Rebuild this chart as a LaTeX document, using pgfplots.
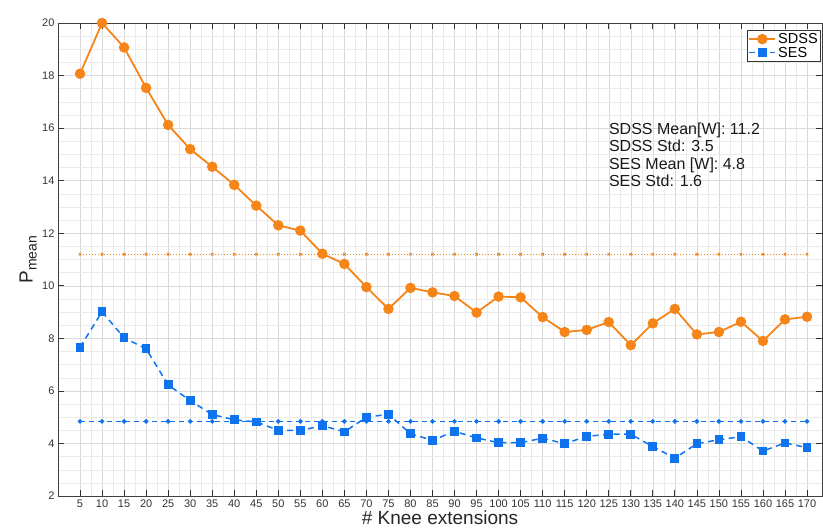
\documentclass[border=0pt]{standalone}
\usepackage{pgfplots}
\pgfplotsset{compat=1.18}
\usepackage{pgfplotstable}
\usepackage{fontspec}
\setmainfont{Liberation Sans}

\definecolor{sdss}{RGB}{245,132,25}
\definecolor{ses}{RGB}{15,115,238}

\pgfplotstableread{
x   sdss   ses   msdss  mses
5   18.07  7.66  11.2   4.84
10  20.00  9.01  11.2   4.84
15  19.07  8.02  11.2   4.84
20  17.53  7.60  11.2   4.84
25  16.12  6.23  11.2   4.84
30  15.20  5.63  11.2   4.84
35  14.53  5.10  11.2   4.84
40  13.84  4.90  11.2   4.84
45  13.05  4.82  11.2   4.84
50  12.30  4.50  11.2   4.84
55  12.10  4.49  11.2   4.84
60  11.22  4.68  11.2   4.84
65  10.83  4.44  11.2   4.84
70  9.95   5.00  11.2   4.84
75  9.12   5.11  11.2   4.84
80  9.92   4.37  11.2   4.84
85  9.75   4.12  11.2   4.84
90  9.61   4.46  11.2   4.84
95  8.98   4.21  11.2   4.84
100 9.59   4.03  11.2   4.84
105 9.56   4.03  11.2   4.84
110 8.81   4.20  11.2   4.84
115 8.24   3.99  11.2   4.84
120 8.32   4.27  11.2   4.84
125 8.62   4.35  11.2   4.84
130 7.74   4.35  11.2   4.84
135 8.57   3.88  11.2   4.84
140 9.12   3.44  11.2   4.84
145 8.15   3.99  11.2   4.84
150 8.24   4.14  11.2   4.84
155 8.63   4.26  11.2   4.84
160 7.90   3.71  11.2   4.84
165 8.72   4.02  11.2   4.84
170 8.82   3.84  11.2   4.84
}\data

\begin{document}
\begin{tikzpicture}
\begin{axis}[
    scale only axis,
    width=764pt, height=473pt,
    xmin=0, xmax=173.4,
    ymin=2, ymax=20,
    xtick={5,10,...,170},
    ytick={2,4,...,20},
    minor x tick num=1,
    minor y tick num=3,
    tick align=inside,
    major tick length=6pt,
    minor tick length=0pt,
    tick style={black!80, line width=0.7pt},
    axis line style={black!75, line width=0.8pt},
    grid=both,
    major grid style={gray!30, line width=0.5pt},
    minor grid style={gray!16, line width=0.4pt},
    /pgf/number format/assume math mode=true,
    ticklabel style={font=\fontsize{11}{12}\selectfont, text=black!80},
    xlabel={\# Knee extensions},
    xlabel style={at={([yshift=-15pt]axis description cs:0.5,0)}, anchor=north,
        inner sep=0pt, font=\fontsize{19}{20}\selectfont, text=black!85},
    ylabel={P\raisebox{-4pt}{\fontsize{14}{15}\selectfont mean}},
    ylabel style={at={([xshift=-21pt]axis description cs:0,0.5)}, anchor=south,
        inner sep=0pt, font=\fontsize{19}{20}\selectfont, text=black!85},
    legend style={at={([xshift=-1pt,yshift=-7pt]axis description cs:1,1)},
        anchor=north east, font=\fontsize{14.5}{14.5}\selectfont,
        inner sep=1pt, row sep=-2pt, draw=black!80, line width=0.6pt,
        cells={anchor=west}},
    legend image code/.code={\draw[mark repeat=2, mark phase=2, #1]
        plot coordinates {(0pt,0pt) (13pt,0pt) (26pt,0pt)};},
]
\addplot[sdss, line width=1.8pt, mark=*, mark size=4.3pt,
    mark options={solid, fill=sdss, draw=sdss}]
    table[x=x, y=sdss] {\data};
\addlegendentry{SDSS}
\addplot[ses, line width=1.5pt, dash pattern=on 6pt off 4.5pt, mark=square*, mark size=3.6pt,
    mark options={solid, fill=ses, draw=ses}]
    table[x=x, y=ses] {\data};
\addlegendentry{SES}
\addplot[sdss, line width=1pt, dotted, mark=x, mark size=1.7pt,
    mark options={solid}, forget plot]
    table[x=x, y=msdss] {\data};
\addplot[ses, line width=1.2pt, dash pattern=on 5pt off 4pt, mark=*, mark size=1.7pt,
    mark options={solid}, forget plot]
    table[x=x, y=mses] {\data};
\node[anchor=north west, align=left, inner sep=0pt,
    font=\fontsize{16}{17.5}\selectfont, text=black!90]
    at (rel axis cs:0.721,0.79)
    {SDSS Mean[W]: 11.2\\SDSS Std: 3.5\\SES Mean [W]: 4.8\\SES Std: 1.6};
\end{axis}
\pgfresetboundingbox
\path[use as bounding box] (-58pt,-32pt) rectangle ++(823pt,528pt);
\end{tikzpicture}
\end{document}
